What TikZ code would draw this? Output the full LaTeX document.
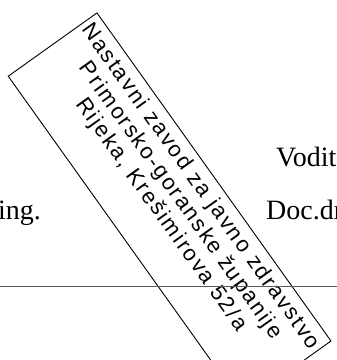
\documentclass[tikz,border=0pt]{standalone}
\usepackage{fontspec}
\setmainfont{Liberation Serif}
\newfontfamily\stampfont[LetterSpace=9]{Liberation Sans}
\usetikzlibrary{positioning}

\begin{document}
\begin{tikzpicture}[x=1pt, y=-1pt]

% --- Define Styles ---
\tikzstyle{doctext} = [inner sep=0pt, font=\fontsize{28}{32}\selectfont]
\tikzstyle{stampbox} = [rectangle, draw=black, line width=0.9pt, minimum width=403pt, minimum height=109pt, rotate=-54.5, inner sep=0pt]
\tikzstyle{stamptext} = [align=center, inner sep=0pt, rotate=-54.5, font=\stampfont\fontsize{22}{24}\selectfont]
\tikzstyle{rule} = [draw=black!65, line width=1pt]

\useasboundingbox (0,0) rectangle (337,360);
\clip (0,0) rectangle (337,360);

% --- Nodes ---
\node (stamp) [stampbox] at (169.6,208.6) {};
\node (stamptxt) [stamptext] at (180.6,200.8) {Nastavni zavod za javno zdravstvo\\ Primorsko-goranske županije\\ Rijeka, Krešimirova 52/a};

\node (ing) [doctext, anchor=base west] at (-2,219) {ing.};
\node (vodit) [doctext, anchor=base west] at (276,166) {Vodit};
\node (doc) [doctext, anchor=base west] at (266,219) {Doc.dr};

% --- Rule ---
\coordinate (ruleL) at (0,286);
\coordinate (ruleR) at (337,286);
\draw [rule] (ruleL) -- (ruleR);

\end{tikzpicture}
\end{document}
